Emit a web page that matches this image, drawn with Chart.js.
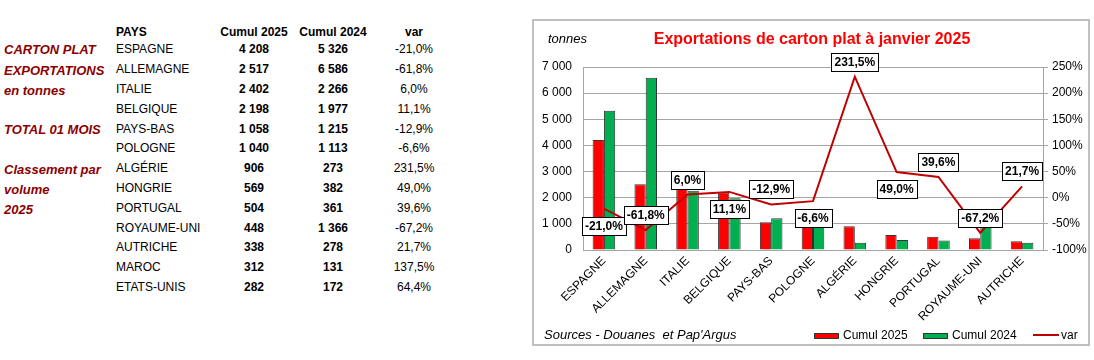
<!DOCTYPE html>
<html lang="fr">
<head>
<meta charset="utf-8">
<title>Exportations de carton plat à janvier 2025</title>
<script src="https://cdn.jsdelivr.net/npm/chart.js@4.4.1/dist/chart.umd.min.js"></script>
<style>
    body {
        margin: 0;
        width: 1094px;
        height: 360px;
        background: #fff;
        font-family: 'Liberation Sans', Arial, sans-serif;
        position: relative;
        overflow: hidden;
    }
    .side {
        position: absolute;
        left: 4px;
        font-size: 13px;
        font-weight: bold;
        font-style: italic;
        color: #8b0000;
        line-height: 16px;
        white-space: nowrap;
    }
    .cell {
        position: absolute;
        font-size: 12px;
        line-height: 14px;
        white-space: nowrap;
        color: #000;
    }
    .mid { transform: translateX(-50%); }
    .bold { font-weight: bold; }
    #chartBox {
        position: absolute;
        left: 532px;
        top: 19px;
        width: 554px;
        height: 323px;
        border: 2px solid #c0c0c0;
    }
    #chartBox canvas { position: absolute; left: 0; top: 0; }
    .ovl { position: absolute; white-space: nowrap; color: #000; }
    .swatch { position: absolute; box-sizing: border-box; }
</style>
</head>
<body>

<div class="side" style="top:42px">CARTON PLAT</div>
<div class="side" style="top:63px">EXPORTATIONS</div>
<div class="side" style="top:83px">en tonnes</div>
<div class="side" style="top:122px">TOTAL 01 MOIS</div>
<div class="side" style="top:162px">Classement par</div>
<div class="side" style="top:182px">volume</div>
<div class="side" style="top:202px">2025</div>

<div id="table"></div>

<div id="chartBox">
    <canvas id="exportChart" width="554" height="323"></canvas>
</div>

<div class="ovl" style="left:548px; top:31px; font-size:13px; line-height:16px; font-style:italic;">tonnes</div>
<div class="ovl mid" style="left:812px; top:30px; font-size:16px; line-height:18px; font-weight:bold; color:#ff0000;">Exportations de carton plat à janvier 2025</div>
<div class="ovl" style="left:544px; top:327px; font-size:13px; line-height:16px; font-style:italic;">Sources - Douanes&nbsp; et Pap'Argus</div>

<div id="legend"></div>

<script>
// table data (13 countries), the chart shows the first 11
const pays = ['ESPAGNE', 'ALLEMAGNE', 'ITALIE', 'BELGIQUE', 'PAYS-BAS', 'POLOGNE', 'ALGÉRIE',
    'HONGRIE', 'PORTUGAL', 'ROYAUME-UNI', 'AUTRICHE', 'MAROC', 'ETATS-UNIS'];
const cumul2025 = [4208, 2517, 2402, 2198, 1058, 1040, 906, 569, 504, 448, 338, 312, 282];
const cumul2024 = [5326, 6586, 2266, 1977, 1215, 1113, 273, 382, 361, 1366, 278, 131, 172];
const varPct = [-21.0, -61.8, 6.0, 11.1, -12.9, -6.6, 231.5, 49.0, 39.6, -67.2, 21.7, 137.5, 64.4];
const chartCount = 11;

const headers = ['PAYS', 'Cumul 2025', 'Cumul 2024', 'var'];
const seriesNames = ['Cumul 2025', 'Cumul 2024', 'var'];

// axis ranges
const tonnesMax = 7000, tonnesStep = 1000;
const pctMin = -100, pctMax = 250, pctStep = 50;

const fmtNum = n => String(n).replace(/\B(?=(\d{3})+(?!\d))/g, ' ');
const fmtPct = v => v.toFixed(1).replace('.', ',') + '%';

function buildTable() {
    const box = document.getElementById('table');
    const cols = [
        { x: 116, center: false },
        { x: 254, center: true },
        { x: 333, center: true },
        { x: 414, center: true }
    ];
    const addCell = (text, col, cy, bold) => {
        const d = document.createElement('div');
        d.className = 'cell' + (col.center ? ' mid' : '') + (bold ? ' bold' : '');
        d.style.left = col.x + 'px';
        d.style.top = (cy - 7) + 'px';
        d.textContent = text;
        box.appendChild(d);
    };
    headers.forEach((h, i) => addCell(h, cols[i], 31.5, true));
    pays.forEach((p, i) => {
        const cy = 49.3 + i * 19.8;
        addCell(p, cols[0], cy, false);
        addCell(fmtNum(cumul2025[i]), cols[1], cy, true);
        addCell(fmtNum(cumul2024[i]), cols[2], cy, true);
        addCell(fmtPct(varPct[i]), cols[3], cy, false);
    });
}

function buildLegend() {
    const box = document.getElementById('legend');
    const items = [
        { x: 814, type: 'box', color: '#ff0000' },
        { x: 923, type: 'box', color: '#00b050' },
        { x: 1033, type: 'line', color: '#c00000' }
    ];
    items.forEach((it, i) => {
        const sw = document.createElement('div');
        sw.className = 'swatch';
        if (it.type === 'box') {
            sw.style.cssText = `left:${it.x}px; top:333px; width:25px; height:6px; background:${it.color}; border:1px solid #333;`;
        } else {
            sw.style.cssText = `left:${it.x}px; top:334px; width:26px; height:2px; background:${it.color};`;
        }
        box.appendChild(sw);
        const t = document.createElement('div');
        t.className = 'ovl';
        t.style.cssText = `left:${it.x + (it.type === 'box' ? 29 : 28)}px; top:328px; font-size:12px; line-height:14px;`;
        t.textContent = seriesNames[i];
        box.appendChild(t);
    });
}

// boxed labels for the var line, like the Excel data labels
const varLabels = {
    id: 'varLabels',
    afterDatasetsDraw(chart, args, opts) {
        const meta = chart.getDatasetMeta(opts.datasetIndex);
        const values = chart.data.datasets[opts.datasetIndex].data;
        const ctx = chart.ctx;
        ctx.save();
        ctx.font = 'bold 12px "Liberation Sans", Arial, sans-serif';
        ctx.textAlign = 'center';
        ctx.textBaseline = 'middle';
        meta.data.forEach((pt, i) => {
            const txt = fmtPct(values[i]);
            const dy = opts.placement[i] === 'below' ? opts.below : opts.above;
            const w = Math.round(ctx.measureText(txt).width + 2 * opts.padX);
            const h = opts.height;
            const cx = pt.x, cy = pt.y + dy;
            const x0 = Math.round(cx - w / 2) + 0.5;
            const y0 = Math.round(cy - h / 2) + 0.5;
            ctx.fillStyle = '#fff';
            ctx.fillRect(x0, y0, w, h);
            ctx.strokeStyle = '#000';
            ctx.lineWidth = 1;
            ctx.strokeRect(x0, y0, w, h);
            ctx.fillStyle = '#000';
            ctx.fillText(txt, cx, y0 + h / 2 + 0.5);
        });
        ctx.restore();
    }
};

function buildChart() {
    Chart.defaults.font.family = '"Liberation Sans", Arial, sans-serif';
    Chart.defaults.font.size = 12;
    Chart.defaults.color = '#000';

    const gridColor = '#a6a6a6';
    const ctx = document.getElementById('exportChart').getContext('2d');

    new Chart(ctx, {
        type: 'bar',
        data: {
            labels: pays.slice(0, chartCount),
            datasets: [
                {
                    label: seriesNames[0],
                    data: cumul2025.slice(0, chartCount),
                    backgroundColor: '#ff0000',
                    borderColor: '#333',
                    borderWidth: 1,
                    categoryPercentage: 0.54,
                    barPercentage: 1,
                    yAxisID: 'y',
                    order: 1
                },
                {
                    label: seriesNames[1],
                    data: cumul2024.slice(0, chartCount),
                    backgroundColor: '#00b050',
                    borderColor: '#333',
                    borderWidth: 1,
                    categoryPercentage: 0.54,
                    barPercentage: 1,
                    yAxisID: 'y',
                    order: 1
                },
                {
                    type: 'line',
                    label: seriesNames[2],
                    data: varPct.slice(0, chartCount),
                    borderColor: '#c00000',
                    borderWidth: 2,
                    pointRadius: 0,
                    tension: 0,
                    yAxisID: 'y1',
                    order: 0
                }
            ]
        },
        options: {
            responsive: false,
            animation: false,
            devicePixelRatio: 1,
            layout: { padding: { top: 46, left: 0, right: 0, bottom: 0 } },
            plugins: {
                legend: { display: false },
                tooltip: { enabled: false },
                varLabels: {
                    datasetIndex: 2,
                    placement: ['below', 'above', 'above', 'below', 'above', 'below',
                        'above', 'below', 'above', 'above', 'above'],
                    above: -15,
                    below: 17,
                    padX: 3,
                    height: 18
                }
            },
            scales: {
                x: {
                    grid: { display: false, drawTicks: false },
                    border: { display: true, color: gridColor },
                    ticks: { minRotation: 45, maxRotation: 45, padding: 4, autoSkip: false },
                    afterFit: s => { s.height = 94; }
                },
                y: {
                    position: 'left',
                    min: 0,
                    max: tonnesMax,
                    ticks: { stepSize: tonnesStep, padding: 11, callback: v => fmtNum(v) },
                    grid: { color: gridColor, drawTicks: false },
                    border: { color: gridColor },
                    afterFit: s => { s.width = 49; }
                },
                y1: {
                    position: 'right',
                    min: pctMin,
                    max: pctMax,
                    ticks: { stepSize: pctStep, padding: 4, callback: v => v + '%' },
                    grid: { drawOnChartArea: false, color: gridColor, tickLength: 5 },
                    border: { color: gridColor },
                    afterFit: s => { s.width = 45; }
                }
            }
        },
        plugins: [varLabels]
    });
}

buildTable();
buildLegend();
buildChart();
</script>
</body>
</html>
